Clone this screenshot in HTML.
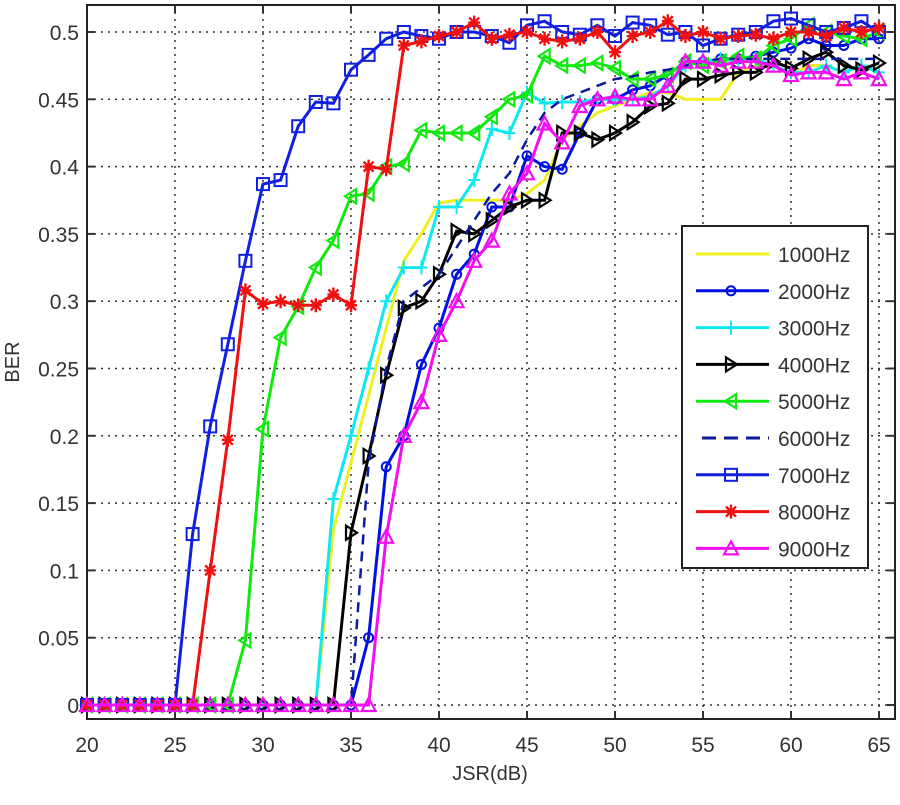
<!DOCTYPE html>
<html><head><meta charset="utf-8"><style>
body{margin:0;background:#fff;}
svg text{font-family:"Liberation Sans",sans-serif;fill:#333;}
</style></head><body>
<svg id="s" width="900" height="800" xmlns="http://www.w3.org/2000/svg"></svg>
<script>
const S=document.getElementById('s');
const X=v=>87+(v-20)*17.6, Y=v=>705-v*1346;
let h='';
for(let v=20;v<=65;v+=5){h+=`<line x1="${X(v)}" y1="5" x2="${X(v)}" y2="719" stroke="#333" stroke-width="1.5" stroke-dasharray="2,5"/>`;
h+=`<line x1="${X(v)}" y1="719" x2="${X(v)}" y2="711" stroke="#333" stroke-width="2"/><line x1="${X(v)}" y1="5" x2="${X(v)}" y2="13" stroke="#333" stroke-width="2"/>`;
h+=`<text x="${X(v)}" y="752" font-size="21" text-anchor="middle">${v}</text>`;}
for(let i=0;i<=10;i++){const v=i*0.05,y=Y(v);
h+=`<line x1="87" y1="${y}" x2="895" y2="${y}" stroke="#333" stroke-width="1.5" stroke-dasharray="2,5"/>`;
h+=`<line x1="87" y1="${y}" x2="95" y2="${y}" stroke="#333" stroke-width="2"/><line x1="887" y1="${y}" x2="895" y2="${y}" stroke="#333" stroke-width="2"/>`;
h+=`<text x="79" y="${y+8}" font-size="21" text-anchor="end">${i==0?'0':+v.toFixed(2)}</text>`;}
h+=`<rect x="87" y="5" width="808" height="714" fill="none" stroke="#222" stroke-width="2"/>`;
h+=`<text x="490" y="780" font-size="20" text-anchor="middle">JSR(dB)</text>`;
h+=`<text transform="translate(19,362) rotate(-90)" font-size="20" text-anchor="middle">BER</text>`;
function z(n){return Array(n).fill(0);}
const D={
1000:z(14).concat([.13,.18,.23,.28,.33,.35,.373,.375,.375,.375,.375,.38,.39,.42,.43,.44,.445,.45,.455,.455,.45,.45,.45,.47,.475,.475,.468,.475,.475,.47,.475,.47]),
2000:z(16).concat([.05,.177,.2,.253,.28,.32,.335,.37,.37,.408,.4,.398,.425,.45,.45,.457,.46,.468,.478,.478,.48,.48,.482,.485,.488,.495,.49,.49,.495,.495]),
3000:z(14).concat([.153,.2,.25,.3,.325,.325,.37,.37,.39,.428,.425,.455,.447,.448,.448,.45,.45,.45,.452,.46,.475,.478,.48,.478,.48,.475,.47,.47,.475,.47,.475,.47]),
4000:z(15).concat([.128,.185,.245,.295,.3,.32,.352,.35,.36,.37,.375,.375,.425,.425,.42,.425,.433,.445,.447,.465,.465,.468,.47,.47,.478,.473,.48,.485,.475,.472,.477]),
5000:z(9).concat([.048,.205,.273,.296,.325,.345,.378,.38,.4,.402,.427,.425,.425,.425,.437,.45,.453,.482,.475,.475,.477,.473,.465,.465,.468,.478,.475,.478,.482,.48,.49,.495,.505,.5,.497,.495,.5]),
6000:z(16).concat([.18,.25,.3,.31,.32,.34,.36,.38,.395,.42,.44,.45,.455,.46,.465,.467,.47,.472,.475,.478,.48,.48,.48,.48,.48,.48,.48,.48,.48,.48]),
7000:z(6).concat([.127,.207,.268,.33,.387,.39,.43,.448,.447,.472,.483,.495,.5,.497,.495,.5,.5,.497,.492,.505,.508,.5,.498,.505,.497,.507,.505,.498,.5,.49,.495,.498,.5,.508,.51,.505,.5,.503,.508,.5]),
8000:z(7).concat([.1,.197,.308,.298,.3,.297,.297,.305,.297,.4,.398,.49,.493,.497,.5,.507,.495,.498,.5,.495,.493,.495,.5,.485,.497,.5,.508,.497,.5,.495,.497,.498,.495,.5,.5,.497,.503,.5,.503]),
9000:z(17).concat([.125,.2,.225,.275,.3,.33,.345,.38,.395,.432,.418,.445,.45,.452,.45,.45,.46,.478,.478,.475,.478,.478,.475,.468,.47,.47,.465,.47,.465])
};
const C={1000:'#f0f020',2000:'#0010e0',3000:'#10e8f0',4000:'#000',5000:'#10e810',6000:'#0a1a9a',7000:'#1020e0',8000:'#f01010',9000:'#f010f0'};
const M={1000:'',2000:'o',3000:'+',4000:'>',5000:'<',6000:'',7000:'s',8000:'*',9000:'^'};
function mk(t,x,y,c){switch(t){
case 'o':return `<circle cx="${x}" cy="${y}" r="4.5" fill="none" stroke="${c}" stroke-width="2"/>`;
case '+':return `<path d="M${x-6} ${y}h12M${x} ${y-7}v14" stroke="${c}" stroke-width="2"/>`;
case '>':return `<path d="M${x-5} ${y-7}L${x+6} ${y}L${x-5} ${y+7}Z" fill="none" stroke="${c}" stroke-width="2.2"/>`;
case '<':return `<path d="M${x+5} ${y-7}L${x-6} ${y}L${x+5} ${y+7}Z" fill="none" stroke="${c}" stroke-width="2.2"/>`;
case 's':return `<rect x="${x-6}" y="${y-6}" width="12" height="12" fill="none" stroke="${c}" stroke-width="2"/>`;
case '*':return `<path d="M${x-6} ${y}h12M${x} ${y-7}v14M${x-5} ${y-5}l10 10M${x-5} ${y+5}l10 -10" stroke="${c}" stroke-width="2.4"/>`;
case '^':return `<path d="M${x} ${y-7}L${x+7} ${y+6}L${x-7} ${y+6}Z" fill="none" stroke="${c}" stroke-width="2.2"/>`;}return '';}
for(const k of [1000,2000,3000,4000,5000,6000,7000,8000,9000]){
 const d=D[k];let p=d.map((v,i)=>`${X(20+i).toFixed(1)},${Y(v).toFixed(1)}`).join(' ');
 h+=`<polyline points="${p}" fill="none" stroke="${C[k]}" stroke-width="${k==6000?2.5:3}" ${k==6000?'stroke-dasharray="10,7"':''}/>`;
 d.forEach((v,i)=>h+=mk(M[k],X(20+i),Y(v),C[k]));
}
h+=`<rect x="682" y="226" width="186" height="342" fill="#fff" stroke="#222" stroke-width="2"/>`;
[1000,2000,3000,4000,5000,6000,7000,8000,9000].forEach((k,i)=>{const y=254+i*36.8;
 h+=`<line x1="${k==6000?702:696}" y1="${y}" x2="769" y2="${y}" stroke="${C[k]}" stroke-width="3" ${k==6000?'stroke-dasharray="14,8"':''}/>`;
 h+=mk(M[k],731,y,C[k]);
 h+=`<text x="778" y="${y+8}" font-size="21">${k}Hz</text>`;});
S.innerHTML=h;
</script>
</body></html>
